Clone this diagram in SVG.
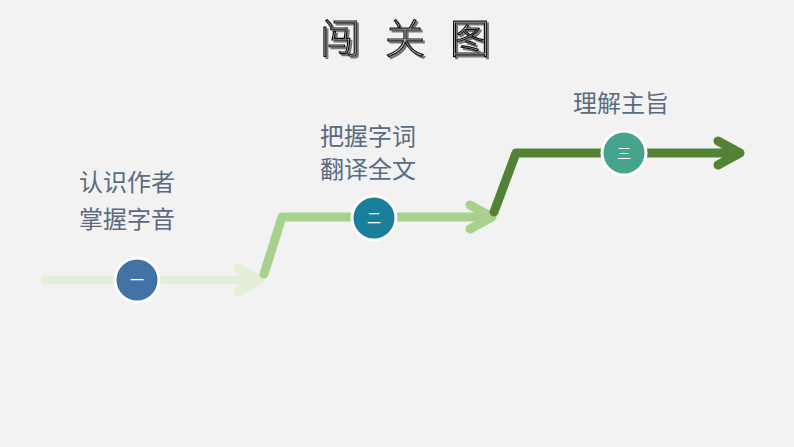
<svg xmlns="http://www.w3.org/2000/svg" width="794" height="447" viewBox="0 0 794 447">
<defs>
<filter id="sh" x="-10%" y="-10%" width="130%" height="130%"><feDropShadow dx="2" dy="2" stdDeviation="0.6" flood-color="#777"/></filter>
</defs>
<style>
.lbl{font-family:"Noto Sans CJK SC",sans-serif;font-size:24px;fill:#5b6b80;text-anchor:middle}
.num{font-family:"Noto Sans CJK SC",sans-serif;font-size:14px;fill:#fff;text-anchor:middle}
.ln{fill:none;stroke-width:9;stroke-linecap:round;stroke-linejoin:round}
.c{stroke:#fff;stroke-width:3}
.t{font-family:"Noto Sans CJK SC",serif;font-size:40px;font-weight:300;text-anchor:middle;fill:#d0d0d0;stroke:#111;stroke-width:1.2}
</style>
<rect width="794" height="447" fill="#f2f2f2"/>
<g id="title" filter="url(#sh)">
<text class="t" x="340 405 470" y="53">闯关图</text>
</g>
<g id="connectors">
<path class="ln" stroke="#e2efd9" d="M45 280H258M238 268L259 280L238 292"/>
<path class="ln" stroke="#a9d18e" d="M264 274L282 217H492M470 205L492 217L470 229"/>
<path class="ln" stroke="#548235" d="M494 212L516 153H740M718 141L740 153L718 165"/>
</g>
<g id="n1">
<circle class="c" cx="137" cy="280" r="22" fill="#4372a6"/>
<text class="num" x="137" y="285">一</text>
<text class="lbl" x="127" y="191">认识作者</text>
<text class="lbl" x="127" y="228">掌握字音</text>
</g>
<g id="n2">
<circle class="c" cx="374" cy="218" r="22" fill="#1a7f9b"/>
<text class="num" x="374" y="223">二</text>
<text class="lbl" x="368" y="145">把握字词</text>
<text class="lbl" x="368" y="178">翻译全文</text>
</g>
<g id="n3">
<circle class="c" cx="624" cy="153" r="22" fill="#45a48b"/>
<text class="num" x="624" y="158">三</text>
<text class="lbl" x="621" y="112">理解主旨</text>
</g>
</svg>
